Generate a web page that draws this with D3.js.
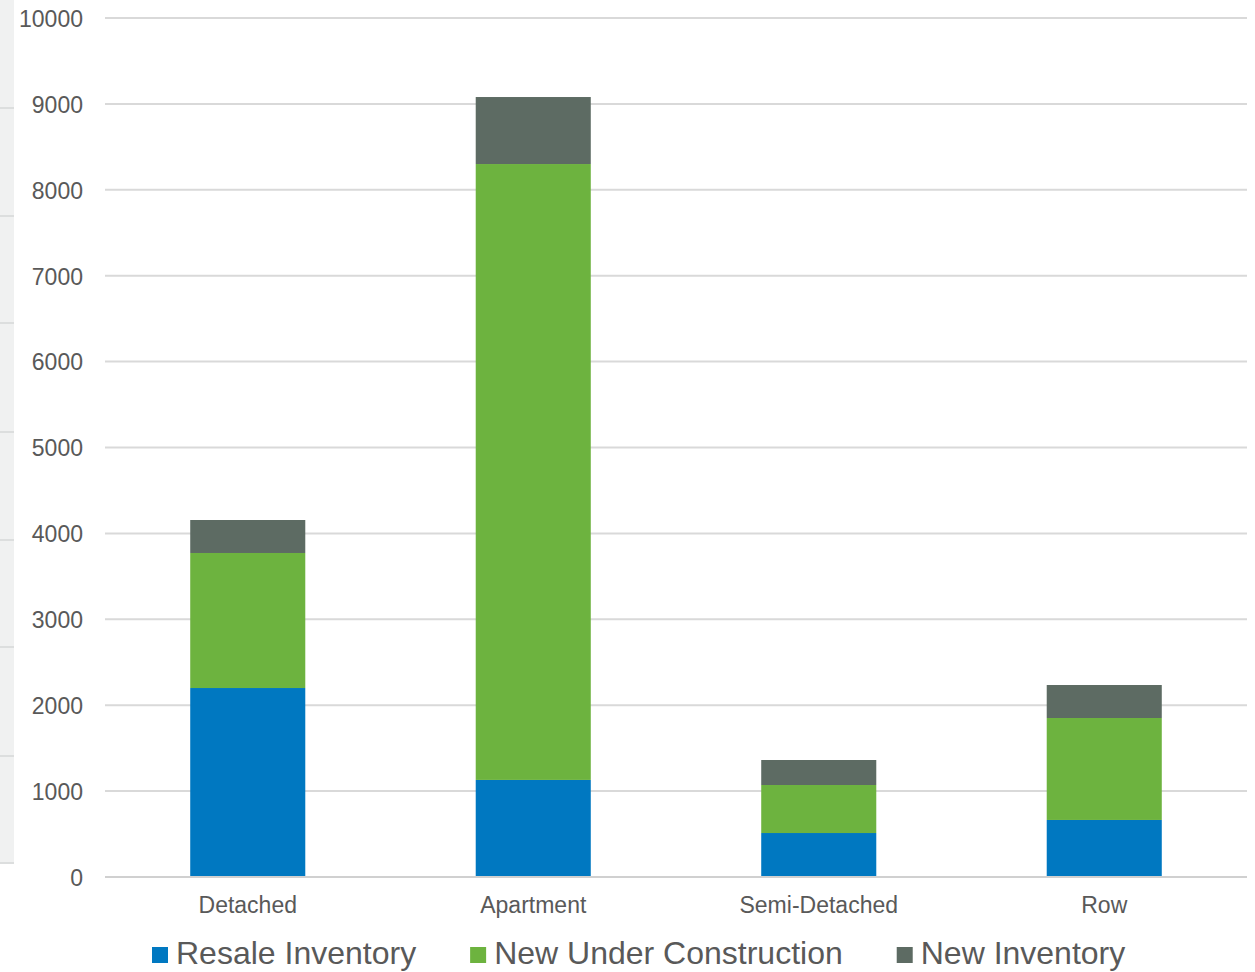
<!DOCTYPE html>
<html><head><meta charset="utf-8">
<script src="https://cdn.jsdelivr.net/npm/d3@7"></script>
<style>body{margin:0;background:#fff}svg{display:block}text{font-family:"Liberation Sans",Arial,sans-serif}</style>
</head><body>
<script>
const categories = ["Detached", "Apartment", "Semi-Detached", "Row"];
const seriesNames = ["Resale Inventory", "New Under Construction", "New Inventory"];
const resale = [2200, 1130, 512, 664];
const newUnderConstruction = [1572, 7170, 559, 1187];
const newInventory = [384, 780, 291, 384];
const yTicks = [0,1000,2000,3000,4000,5000,6000,7000,8000,9000,10000];
const colors = ["#0078c1", "#6db33f", "#5d6b63"];

const W = 1255, H = 972;
const svg = d3.select("body").append("svg").attr("width", W).attr("height", H);

// left strip decoration
svg.append("rect").attr("x",0).attr("y",0).attr("width",14).attr("height",863).attr("fill","#f0f1f1");
[108,216,323,432,540,647,756,863].forEach(y=>{
  svg.append("line").attr("x1",0).attr("x2",14).attr("y1",y).attr("y2",y).attr("stroke","#dcdede").attr("stroke-width",2);
});

const x0 = 105, x1 = 1247, yTop = 18, yBot = 877;
const x = d3.scaleBand().domain(categories).range([x0, x1]).padding(0);
const y = d3.scaleLinear().domain([0, 10000]).range([yBot, yTop]);

// gridlines
svg.append("g").selectAll("line").data(yTicks.filter(t=>t>0)).join("line")
  .attr("x1", x0).attr("x2", x1).attr("y1", d=>y(d)).attr("y2", d=>y(d))
  .attr("stroke", "#d9d9d9").attr("stroke-width", 2);

// y axis
const yAxis = d3.axisLeft(y).tickValues(yTicks).tickSize(0).tickPadding(0).tickFormat(d3.format("d"));
const ya = svg.append("g").attr("transform", "translate(83,1)").call(yAxis);
ya.select(".domain").remove();
ya.selectAll("text").attr("font-size", 23).attr("fill", "#595959").attr("font-family", '"Liberation Sans",Arial,sans-serif');

// stacked bars
const rows = categories.map((c,i)=>({cat:c, s0:resale[i], s1:newUnderConstruction[i], s2:newInventory[i]}));
const stack = d3.stack().keys(["s0","s1","s2"])(rows);
const barW = x.bandwidth() * 0.403;
svg.append("g").selectAll("g").data(stack).join("g").attr("fill", (d,i)=>colors[i])
  .selectAll("rect").data(d=>d).join("rect")
  .attr("x", d=>x(d.data.cat) + (x.bandwidth()-barW)/2)
  .attr("width", barW)
  .attr("y", d=>y(d[1]))
  .attr("height", d=>y(d[0]) - y(d[1]));

// baseline
svg.append("line").attr("x1", x0).attr("x2", x1).attr("y1", yBot).attr("y2", yBot)
  .attr("stroke", "#d0d0d0").attr("stroke-width", 2);

// x axis labels
const xAxis = d3.axisBottom(x).tickSize(0).tickPadding(0);
const xa = svg.append("g").attr("transform", `translate(0,${yBot})`).call(xAxis);
xa.select(".domain").remove();
xa.selectAll("text").attr("font-size", 23).attr("fill", "#595959").attr("dy", null).attr("y", 36)
  .attr("font-family", '"Liberation Sans",Arial,sans-serif');

// legend
const lg = svg.append("g");
let lx = 152;
seriesNames.forEach((n,i)=>{
  lg.append("rect").attr("x", lx).attr("y", 947).attr("width", 16).attr("height", 16).attr("fill", colors[i]);
  const t = lg.append("text").attr("x", lx + 24).attr("y", 964).attr("font-size", 32).attr("fill", "#595959").text(n);
  const w = t.node().getComputedTextLength();
  lx = lx + 24 + w + 54;
});
</script>
</body></html>
